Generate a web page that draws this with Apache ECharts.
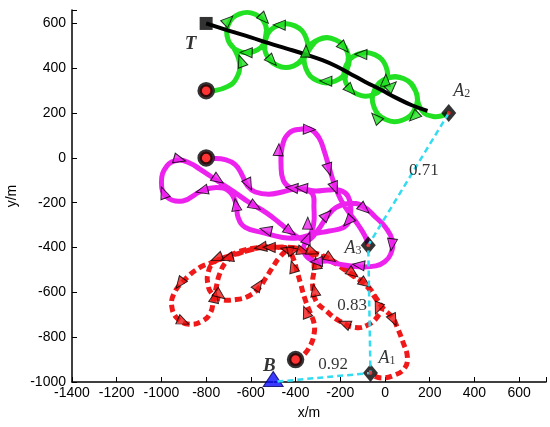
<!DOCTYPE html>
<html>
<head>
<meta charset="utf-8">
<script src="https://cdn.jsdelivr.net/npm/echarts@6/dist/echarts.min.js"></script>
<style>
  html, body { margin: 0; padding: 0; background: #fff; }
  #chart { width: 550px; height: 427px; }
</style>
</head>
<body>
<div id="chart"></div>
<script>
// trajectories (x/m, y/m)
var greenPath = [
  [-765, 300], [-705, 318], [-665, 355], [-650, 420], [-672, 482],
  [-702, 527], [-700, 596], [-650, 643], [-581, 641], [-534, 591], [-536, 522], [-586, 475],
  [-655, 477], [-702, 527], [-700, 596], [-650, 643], [-581, 641], [-534, 591], [-536, 522],
  [-533, 466], [-483, 413], [-408, 411], [-355, 461], [-353, 536], [-403, 589], [-478, 591],
  [-531, 541], [-533, 466], [-483, 413], [-408, 411], [-355, 461],
  [-297, 528], [-220, 526], [-168, 471], [-170, 394], [-225, 342], [-302, 344], [-354, 399],
  [-352, 476], [-297, 528], [-220, 526], [-168, 471], [-170, 394],
  [-176, 338], [-126, 285], [-51, 283], [2, 333], [4, 408], [-46, 461], [-121, 463],
  [-174, 413], [-176, 338], [-126, 285], [-51, 283], [2, 333],
  [8, 355], [85, 353], [137, 298], [135, 221], [80, 169], [3, 171], [-49, 226], [-47, 303],
  [8, 355], [85, 353], [137, 298],
  [150, 240], [175, 200], [215, 185], [255, 188], [285, 200]
]
var blackPath = [
  [-800, 600], [-700, 568], [-600, 538], [-520, 512], [-440, 488], [-350, 460], [-280, 436],
  [-220, 410], [-160, 378], [-90, 340], [-20, 305], [50, 268], [120, 235], [190, 210]
]
var magentaPath = [
  [-765, -3], [-715, -8], [-670, -30], [-640, -75], [-615, -125], [-580, -152], [-520, -162],
  [-460, -152], [-410, -140], [-360, -140], [-310, -148], [-255, -143], [-200, -145],
  [-165, -172], [-153, -230], [-160, -282], [-188, -312], [-250, -326], [-320, -340],
  [-390, -357], [-458, -355], [-547, -333], [-625, -310], [-657, -266], [-666, -207],
  [-696, -150], [-755, -132], [-825, -150], [-904, -192], [-975, -175], [-1000, -110],
  [-975, -35], [-925, -10], [-870, -25], [-830, -49], [-749, -103], [-682, -147],
  [-607, -199], [-532, -244], [-473, -289], [-428, -326], [-384, -357], [-345, -368],
  [-300, -322], [-262, -266], [-220, -222], [-161, -204], [-101, -214], [-41, -266],
  [3, -311], [33, -370], [25, -430], [0, -462], [-41, -482], [-116, -486], [-205, -474],
  [-255, -460], [-310, -462], [-350, -440], [-365, -400], [-345, -365], [-320, -300],
  [-318, -220], [-325, -160], [-370, -140], [-420, -135], [-455, -100], [-465, -30],
  [-460, 50], [-430, 110], [-380, 128], [-330, 126], [-294, 88], [-272, 31], [-250, -43],
  [-227, -117], [-210, -160], [-190, -200], [-160, -245], [-130, -285], [-100, -330],
  [-82, -365], [-75, -390]
]
var redPath = [
  [-360, -875], [-335, -840], [-318, -790], [-317, -740], [-335, -690], [-358, -630],
  [-378, -560], [-395, -500], [-410, -450], [-432, -412], [-480, -399], [-547, -398],
  [-636, -413], [-700, -437], [-760, -462], [-830, -490], [-900, -548], [-945, -608],
  [-953, -668], [-926, -719], [-874, -742], [-815, -727], [-780, -690], [-768, -638],
  [-755, -578], [-740, -519], [-711, -465], [-666, -432], [-600, -410], [-530, -398],
  [-456, -400], [-393, -403], [-330, -420], [-250, -450], [-146, -519], [-86, -563],
  [-41, -623], [-15, -670], [-27, -700], [-71, -742], [-131, -757], [-205, -727],
  [-264, -682], [-309, -638], [-324, -563], [-317, -489], [-325, -440], [-360, -410],
  [-420, -400], [-500, -399], [-580, -404], [-650, -425], [-720, -445], [-770, -470],
  [-792, -515], [-793, -560], [-778, -601], [-740, -630], [-666, -632], [-607, -615],
  [-562, -578], [-532, -534], [-503, -489], [-473, -445], [-440, -415], [-393, -405],
  [-330, -425], [-250, -455], [-146, -524], [-86, -568], [-41, -628], [-5, -675],
  [33, -712], [55, -757], [78, -816], [100, -890], [85, -942], [35, -972], [-12, -982],
  [-45, -975]
]

// heading markers along each trajectory
var greenArrows = [
  [-700, 615], [-540, 620], [-473, 593], [-621, 470], [-644, 433], [-505, 433], [-354, 477],
  [-183, 492], [-108, 462], [-265, 343], [-153, 302], [3, 347], [31, 321], [-41, 180], [129, 183]
]
var magentaArrows = [
  [-918, -7], [-991, -154], [-819, -146], [-746, -97], [-609, -119], [-667, -209], [-581, -216],
  [-534, -321], [-424, -328], [-346, -358], [-346, -291], [-417, -134], [-374, -134], [-476, 37],
  [-338, 127], [-252, -52], [-224, -134], [-260, -254], [-166, -284], [-92, -228], [30, -388],
  [-119, -478], [-307, -463]
]
var redArrows = [
  [-557, -399], [-518, -399], [-440, -410], [-409, -413], [-366, -418], [-323, -418], [-307, -470],
  [-244, -448], [-143, -515], [-88, -560], [-33, -672], [38, -724], [-182, -739], [-315, -590],
  [-354, -687], [-412, -485], [-565, -567], [-753, -448], [-706, -448], [-918, -560], [-902, -731],
  [-761, -619], [-738, -612]
]

var startPoints = [[-800, 300], [-800, 0], [-400, -900]]
var targetPoint = [[-800, 600]]
var anchorPoints = [[285, 200], [-75, -390], [-65, -960]]
var basePoint = [[-500, -1000]]
var linkPath = [[285, 200], [-75, -390], [-65, -960], [-500, -1000]]

var linkLabels = ['0.71', '0.83', '0.92']
var linkLabelPos = [[174, -58], [-147, -660], [-232, -923]]
var nameLabels = ['{i|T}', '{a|A}{s|2}', '{a|A}{s|3}', '{a|A}{s|1}', '{i|B}']
var nameLabelPos = [[-870, 508], [343, 299], [-143, -401], [9, -892], [-517, -928]]

function segDist(p, a, b) {
  var dx = b[0] - a[0], dy = b[1] - a[1]
  var t = ((p[0] - a[0]) * dx + (p[1] - a[1]) * dy) / (dx * dx + dy * dy || 1)
  t = Math.max(0, Math.min(1, t))
  var x = a[0] + t * dx - p[0], y = a[1] + t * dy - p[1]
  return x * x + y * y
}

// turn each marker into a triangle pointing along the nearest piece of its path
function arrowItems(path, arrows) {
  return arrows.map(function(p) {
    var best = 0
    var bestD = Infinity
    for (var i = 0; i < path.length - 1; i++) {
      var d = segDist(p, path[i], path[i + 1])
      if (d < bestD) { bestD = d; best = i }
    }
    var dx = path[best + 1][0] - path[best][0]
    var dy = path[best + 1][1] - path[best][1]
    return { value: p, symbolRotate: Math.atan2(dy, dx) * 180 / Math.PI - 90 }
  })
}

// trajectory drawn as one smooth polyline through the axis scales
function pathSeries(path, color, width, dash, z) {
  return {
    type: 'custom',
    data: path,
    encode: { x: 0, y: 1 },
    z: z,
    renderItem: function(params, api) {
      if (params.dataIndex !== 0) return null
      var pts = path.map(function(p) { return api.coord(p) })
      return {
        type: 'polyline',
        shape: { points: pts, smooth: 0.45 },
        style: {
          stroke: color,
          lineWidth: width,
          fill: null,
          lineDash: dash || null,
          lineCap: 'butt',
          lineJoin: 'round'
        }
      }
    }
  }
}

function arrowSeries(path, arrows, color) {
  return {
    type: 'scatter',
    data: arrowItems(path, arrows),
    symbol: 'triangle',
    symbolSize: [10, 12],
    clip: false,
    itemStyle: { color: color, borderColor: '#000', borderWidth: 1 },
    z: 4
  }
}

var tickFmt = function(v) { return v % 200 === 0 ? String(v) : '' }
var axisFont = { fontFamily: 'Liberation Sans, Arial, sans-serif', fontSize: 14, color: '#000' }

var chart = echarts.init(document.getElementById('chart'))
chart.setOption({
  animation: false,
  backgroundColor: '#fff',
  grid: { left: 72, right: 4, top: 10, bottom: 45, outerBoundsMode: 'none' },
  xAxis: {
    type: 'value',
    min: -1400,
    max: 720,
    interval: 200,
    name: 'x/m',
    nameLocation: 'middle',
    nameGap: 24,
    nameTextStyle: axisFont,
    axisLine: { onZero: false, lineStyle: { color: '#000', width: 1.5 } },
    axisTick: { inside: true, length: 5, lineStyle: { color: '#000' } },
    axisLabel: Object.assign({ formatter: tickFmt, margin: 4 }, axisFont),
    splitLine: { show: false }
  },
  yAxis: {
    type: 'value',
    min: -1000,
    max: 660,
    interval: 200,
    name: 'y/m',
    nameLocation: 'middle',
    nameGap: 50,
    nameRotate: 90,
    nameTextStyle: axisFont,
    axisLine: { onZero: false, lineStyle: { color: '#000', width: 1.5 } },
    axisTick: { inside: true, length: 5, lineStyle: { color: '#000' } },
    axisLabel: Object.assign({ formatter: tickFmt, margin: 6 }, axisFont),
    splitLine: { show: false }
  },
  series: [
    pathSeries(redPath, '#f01818', 5, [7, 4], 2),
    pathSeries(magentaPath, '#ee22ee', 5, null, 2),
    pathSeries(greenPath, '#22e022', 5, null, 2),
    pathSeries(blackPath, '#000000', 4, null, 3),
    {
      type: 'line',
      data: linkPath,
      symbol: 'none',
      clip: false,
      lineStyle: { color: '#33dcf0', width: 2.5, type: [6, 4] },
      z: 5
    },
    arrowSeries(redPath, redArrows, '#f01818'),
    arrowSeries(magentaPath, magentaArrows, '#ee22ee'),
    arrowSeries(greenPath, greenArrows, '#22e022'),
    {
      type: 'scatter',
      data: startPoints,
      symbol: 'circle',
      symbolSize: 13,
      itemStyle: { color: '#ff0000', borderColor: '#000', borderWidth: 4.5 },
      z: 6
    },
    {
      type: 'scatter',
      data: targetPoint,
      symbol: 'rect',
      symbolSize: 13,
      itemStyle: { color: '#000' },
      z: 6
    },
    {
      type: 'scatter',
      data: anchorPoints,
      symbol: 'diamond',
      symbolSize: [15, 18],
      itemStyle: { color: '#000' },
      z: 4
    },
    {
      type: 'scatter',
      data: anchorPoints,
      symbol: 'circle',
      symbolSize: 4,
      itemStyle: { color: '#ff2020' },
      z: 6
    },
    {
      type: 'scatter',
      data: basePoint,
      symbol: 'triangle',
      symbolSize: [20, 15],
      symbolOffset: [0, -3],
      clip: false,
      itemStyle: { color: '#0a0aff', borderColor: '#000060', borderWidth: 1 },
      z: 4
    },
    {
      type: 'scatter',
      data: linkLabelPos.map(function(p, i) { return { value: p, name: linkLabels[i] } }),
      symbolSize: 1,
      itemStyle: { color: 'transparent' },
      label: {
        show: true,
        position: 'inside',
        formatter: '{b}',
        fontFamily: 'Liberation Serif, Times New Roman, serif',
        fontSize: 17,
        color: '#000'
      },
      z: 7
    },
    {
      type: 'scatter',
      data: nameLabelPos.map(function(p, i) { return { value: p, name: nameLabels[i] } }),
      symbolSize: 1,
      itemStyle: { color: 'transparent' },
      label: {
        show: true,
        position: 'inside',
        formatter: '{b}',
        color: '#000',
        rich: {
          i: { fontFamily: 'Liberation Serif, serif', fontStyle: 'italic', fontWeight: 'bold', fontSize: 19, color: '#000' },
          a: { fontFamily: 'Liberation Serif, serif', fontStyle: 'italic', fontSize: 18, lineHeight: 18, verticalAlign: 'top', color: '#000' },
          s: { fontFamily: 'Liberation Serif, serif', fontSize: 12, lineHeight: 12, padding: [10, 0, 0, 0], verticalAlign: 'bottom', color: '#000' }
        }
      },
      z: 7
    }
  ]
})
</script>
</body>
</html>
